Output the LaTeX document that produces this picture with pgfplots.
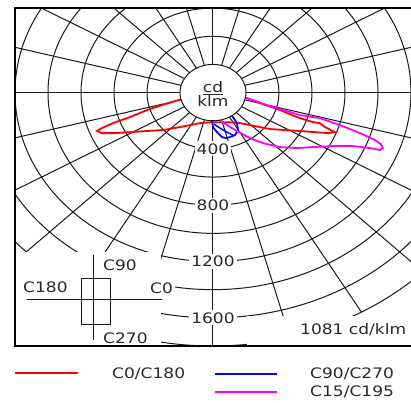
\documentclass[border=0pt]{standalone}
\usepackage{pgfplots}
\pgfplotsset{compat=1.18}
\usepackage{fontspec}
\setmainfont{DejaVu Sans}[FakeStretch=1.18]
\definecolor{txt}{RGB}{45,40,35}
\definecolor{mred}{RGB}{255,0,0}
\definecolor{mblue}{RGB}{0,0,255}
\definecolor{mmag}{RGB}{255,0,255}
\tikzset{gl/.style={draw=black!90, line width=1.0bp}}
\begin{document}
\fontsize{14.5}{17}\selectfont
\begin{tikzpicture}[x=1bp,y=1bp]
\useasboundingbox (0,0) rectangle (411,403);
\begin{axis}[at={(15bp,57bp)}, anchor=south west, x=0.165bp, y=0.1408bp,
  xmin=-1200,xmax=1200,ymin=-1800,ymax=600, hide axis, clip=true]
% grid ellipses
\pgfplotsinvokeforeach{400,600,...,1800}{
  \draw[gl] (axis cs:0,0) ellipse [x radius=#1, y radius=#1];
}
% radial lines
\pgfplotsinvokeforeach{0,15,...,345}{
  \draw[gl] (axis cs:{200*sin(#1)},{-200*cos(#1)}) -- (axis cs:{1800*sin(#1)},{-1800*cos(#1)});
}
% white label boxes
\fill[white] (axis cs:-1250,-1133) rectangle (axis cs:-315,-1850);
\fill[white] (axis cs:206,-1590) rectangle (axis cs:1250,-1850);
% C0/C180
\addplot[mred, line width=1.8bp] coordinates {
(0,0) (-188,-46) (-291,-82) (-400,-124) (-503,-174) (-606,-217) (-673,-252) (-703,-273)
(-673,-288) (-594,-288) (-503,-281) (-400,-273) (-303,-266) (-200,-245) (-139,-231)
(-79,-217) (0,-210) (91,-210) (164,-217) (255,-238) (345,-259) (436,-266) (527,-273)
(618,-281) (697,-288) (739,-281) (679,-245) (648,-217) (606,-210) (509,-174) (406,-124)
(303,-82) (206,-39) (0,0)};
% C90/C270
\addplot[mblue, line width=1.8bp] coordinates {
(0,0) (-6,-195) (0,-245) (24,-281) (55,-316) (79,-323) (103,-316) (133,-302)
(152,-266) (145,-217) (121,-174) (60,-80) (0,0)};
\addplot[mblue, line width=1.5bp] coordinates {
(6,-224) (42,-252) (85,-281) (121,-302)};
% C15/C195
\addplot[mmag, line width=1.8bp] coordinates {
(0,0) (206,-39) (327,-89) (406,-117) (527,-160) (648,-181) (770,-231) (891,-288)
(982,-337) (1018,-366) (1030,-394) (1012,-408) (952,-394) (848,-380) (727,-380)
(606,-387) (509,-394) (406,-387) (303,-359) (224,-323) (145,-273) (85,-231) (42,-195) (0,0)};
% centre disk
\fill[white] (axis cs:0,0) ellipse [x radius=200, y radius=200];
\draw[gl] (axis cs:0,0) ellipse [x radius=200, y radius=200];
\node[text=txt, align=center, inner sep=0pt, font=\fontsize{14.5}{13}\selectfont] at (axis cs:0,-12) {\underline{cd}\\klm};
% scale labels
\node[text=txt, fill=white, inner sep=2bp] at (axis cs:0,-400) {400};
\node[text=txt, fill=white, inner sep=2bp] at (axis cs:0,-800) {800};
\node[text=txt, fill=white, inner sep=2bp] at (axis cs:0,-1200) {1200};
\node[text=txt, fill=white, inner sep=2bp] at (axis cs:0,-1600) {1600};
\end{axis}
% frame
\draw[line width=1.3bp, black] (411,395) -- (15,395) -- (15,57) -- (411,57);
% luminaire symbol
\draw[line width=1.0bp, black!90] (93,148) -- (93,63);
\draw[line width=1.0bp, black!90] (27,103) -- (162,103);
\draw[line width=1.0bp, black!90] (81,124) rectangle (110,78);
\node[text=txt, anchor=west, inner sep=0pt] at (103,138) {C90};
\node[text=txt, anchor=west, inner sep=0pt] at (23,116) {C180};
\node[text=txt, anchor=west, fill=white, inner sep=2bp] at (148,115) {C0};
\node[text=txt, anchor=west, inner sep=0pt] at (103,65) {C270};
\node[text=txt, anchor=west, inner sep=0pt] at (300,73) {1081 cd/klm};
% legend
\draw[mred, line width=1.5bp] (15,30) -- (78,30);
\node[text=txt, anchor=west, inner sep=0pt] at (112,29) {C0/C180};
\draw[mblue, line width=1.5bp] (215,29) -- (277,29);
\node[text=txt, anchor=west, inner sep=0pt] at (310,29) {C90/C270};
\draw[mmag, line width=1.5bp] (215,11) -- (277,11);
\node[text=txt, anchor=west, inner sep=0pt] at (310,11) {C15/C195};
\end{tikzpicture}
\end{document}
